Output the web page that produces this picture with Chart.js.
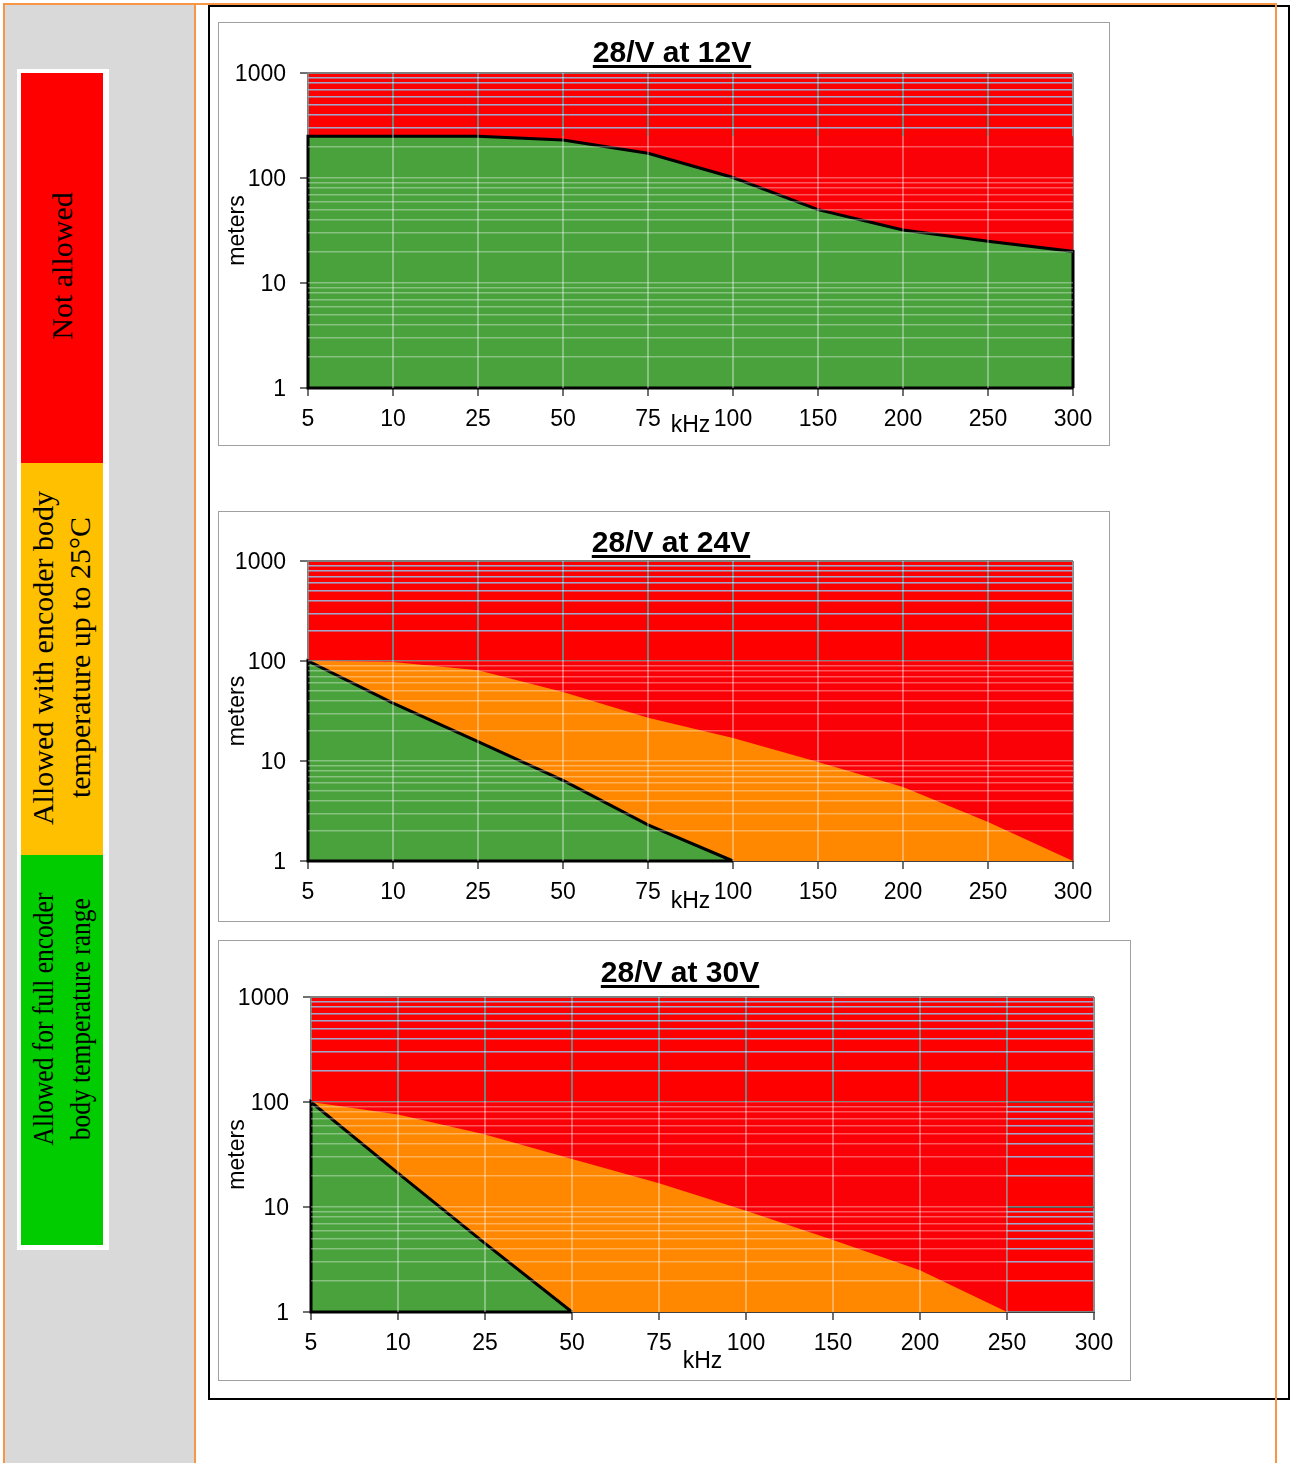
<!DOCTYPE html>
<html>
<head>
<meta charset="utf-8">
<title>28/V cable length charts</title>
<script src="https://cdn.jsdelivr.net/npm/chart.js@4.4.1/dist/chart.umd.min.js"></script>
<style>
html, body { margin: 0; padding: 0; background: #fff; }
body { position: relative; width: 1290px; height: 1463px; overflow: hidden; font-family: "Liberation Sans", Arial, sans-serif; }
.abs { position: absolute; box-sizing: border-box; }
#sidebar { left: 5px; top: 5px; width: 191px; height: 1470px; background: #d9d9d9; border-right: 2px solid #f79646; }
#frame { left: 3px; top: 3px; width: 1274px; height: 1480px; border: 2px solid #f79646; z-index: 10; pointer-events: none; }
#outer { left: 208px; top: 5px; width: 1082px; height: 1395px; border: 2px solid #000; }
#legend { left: 17px; top: 69px; width: 92px; height: 1181px; background: #fff; }
.band { position: absolute; left: 21px; width: 82px; }
.ltxt { position: absolute; writing-mode: vertical-rl; transform: translate(-50%, -50%) rotate(180deg);
        font-family: "Liberation Serif", "Times New Roman", serif; font-size: 30px; line-height: 37px;
        text-align: center; white-space: nowrap; color: #000; }
.ltxt.narrow { transform: translate(-50%, -50%) rotate(180deg) scaleY(0.85); }
.box { position: absolute; border: 1px solid #a0a0a0; background: #fff; box-sizing: border-box; }
.box canvas { position: absolute; left: 0; top: 0; }
.ttl { position: absolute; font-weight: bold; font-size: 30px; line-height: 30px; white-space: nowrap; color: #000;
       text-decoration: underline; text-decoration-thickness: 3px; text-underline-offset: 3px; transform: translateX(-50%); }
</style>
</head>
<body>
<div id="sidebar" class="abs"></div>
<div id="outer" class="abs"></div>
<div id="frame" class="abs"></div>

<div id="legend" class="abs"></div>
<div class="band" style="top:73px;height:390px;background:#ff0000;"></div>
<div class="band" style="top:463px;height:392px;background:#ffc000;"></div>
<div class="band" style="top:855px;height:390px;background:#00cc00;"></div>
<div class="ltxt" style="left:61px;top:266px;">Not allowed</div>
<div class="ltxt" style="left:61px;top:658px;">Allowed with encoder body<br>temperature up to 25°C</div>
<div class="ltxt narrow" style="left:61px;top:1019px;">Allowed for full encoder<br>body temperature range</div>

<div class="box" id="box12"><canvas id="c12"></canvas></div>
<div class="box" id="box24"><canvas id="c24"></canvas></div>
<div class="box" id="box30"><canvas id="c30"></canvas></div>
<div class="ttl" style="left:672px;top:37px;">28/V at 12V</div>
<div class="ttl" style="left:671px;top:527px;">28/V at 24V</div>
<div class="ttl" style="left:680px;top:957px;">28/V at 30V</div>

<script>
// categorias del eje X (kHz) y marcas del eje Y logaritmico
const KHZ = ['5', '10', '25', '50', '75', '100', '150', '200', '250', '300'];
const Y_TICKS = [1, 2, 3, 4, 5, 6, 7, 8, 9, 10, 20, 30, 40, 50, 60, 70, 80, 90,
                 100, 200, 300, 400, 500, 600, 700, 800, 900, 1000];
const Y_LABELED = [1, 10, 100, 1000];

// 28/V at 12V
const green12 = [250, 250, 250, 230, 172, 101, 50, 32, 25, 20];
const red12 = [250, 250, 250, 250, 250, 250, 250, 250, 250, 250];

// 28/V at 24V
const green24 = [100, 38, 15.6, 6.4, 2.3, 1, null, null, null, null];
const orange24 = [100, 98, 81, 49, 27, 17, 9.8, 5.5, 2.45, 1];
const red24 = [100, 100, 100, 100, 100, 100, 100, 100, 100, 100];

// 28/V at 30V
const green30 = [100, 21, 4.5, 1, null, null, null, null, null, null];
const orange30 = [100, 76, 49, 28.6, 16.8, 9.2, 4.85, 2.5, 1, null];
const red30 = [100, 100, 100, 100, 100, 100, 100, 100, 100, null];

const RED = '#ff0000', RED_SHADE = '#fa0007', ORANGE = '#ff8800', GREEN = '#49a23c';
const OVER = 'rgba(255,255,255,0.35)';
const CLEAR = 'rgba(0,0,0,0)';
const FONT = { size: 23 };
const LH = 23 * 1.2;

Chart.defaults.font.family = '"Liberation Sans", Arial, sans-serif';

// fondo rojo del area de trazado
const plotBg = {
	id: 'plotBg',
	beforeDraw(chart) {
		const a = chart.chartArea, ctx = chart.ctx;
		ctx.save();
		ctx.fillStyle = RED;
		ctx.fillRect(a.left, a.top, a.right - a.left, a.bottom - a.top);
		ctx.restore();
	}
};

function setLogTicks(scale) {
	scale.ticks = Y_TICKS.map(v => ({ value: v }));
}

// contorno negro de la zona verde (borde izq., fondo, curva)
function outlineOf(vals) {
	let last = vals.length - 1;
	while (vals[last] == null) last--;
	const pts = [{ x: KHZ[last], y: 1 }, { x: KHZ[0], y: 1 }];
	for (let i = 0; i <= last; i++) pts.push({ x: KHZ[i], y: vals[i] });
	pts.push({ x: KHZ[last], y: 1 });
	return pts;
}

function area(data, color) {
	return { data, backgroundColor: color, borderColor: CLEAR, borderWidth: 0, fill: 'start',
		pointRadius: 0, xAxisID: 'x', yAxisID: 'y' };
}

function buildChart(boxId, canvasId, g, green, orange, red) {
	const [bx, by, bw, bh] = g.box;
	const [pl, pt, pr, pb] = g.plot;
	const box = document.getElementById(boxId);
	box.style.left = bx + 'px';
	box.style.top = by + 'px';
	box.style.width = bw + 'px';
	box.style.height = bh + 'px';
	const cx = bx + 1, cy = by + 1, cw = bw - 2, ch = bh - 2;
	const cv = document.getElementById(canvasId);
	cv.width = cw; cv.height = ch;
	cv.style.width = cw + 'px'; cv.style.height = ch + 'px';
	const last = KHZ.length - 1;

	const datasets = [
		{ data: outlineOf(green), borderColor: '#000', borderWidth: 3, fill: false, pointRadius: 0,
		  clip: false, xAxisID: 'x', yAxisID: 'y' },
		area(green, GREEN)
	];
	if (orange) datasets.push(area(orange, ORANGE));
	datasets.push(area(red, RED_SHADE));

	new Chart(cv, {
		type: 'line',
		data: { labels: KHZ, datasets },
		options: {
			responsive: false,
			animation: false,
			events: [],
			layout: { padding: { left: 0, top: pt - cy, right: cx + cw - pr, bottom: 0 } },
			plugins: { legend: { display: false }, tooltip: { enabled: false }, title: { display: false } },
			elements: { line: { tension: 0 }, point: { radius: 0 } },
			scales: {
				x: {
					type: 'category', position: 'bottom', offset: false,
					grid: { offset: false, lineWidth: 2, tickLength: 8, tickWidth: 1.5, tickColor: '#404040',
						color: c => (c.index === 0 || c.index === last) ? '#8c8c8c' : '#3a3a3a' },
					border: { color: '#404040', width: 1 },
					ticks: { color: '#000', font: FONT, padding: 9.5, autoSkip: false, maxRotation: 0 },
					title: { display: true, text: 'kHz', color: '#000', font: FONT,
						padding: { top: 0, bottom: ch - LH / 2 - (g.xTitleY - cy) } },
					afterFit: s => { s.height = cy + ch - pb; }
				},
				xOver: {
					type: 'category', position: 'bottom', offset: false,
					grid: { z: 1, offset: false, lineWidth: 2, drawTicks: false,
						color: c => (c.index === 0 || c.index === last) ? CLEAR : OVER },
					border: { display: false },
					ticks: { display: false },
					afterFit: s => { s.height = 0; }
				},
				y: {
					type: 'logarithmic', position: 'left', min: 1, max: 1000,
					afterBuildTicks: setLogTicks,
					grid: {
						tickLength: 8, tickWidth: 1.5,
						lineWidth: c => (c.tick && Y_LABELED.includes(c.tick.value)) ? 2 : 1.5,
						color: c => {
							if (!c.tick) return '#808080';
							const v = c.tick.value;
							if (v === 1 || v === 1000) return '#808080';
							return Y_LABELED.includes(v) ? '#3c3c3c' : '#7575ab';
						},
						tickColor: c => (c.tick && Y_LABELED.includes(c.tick.value)) ? '#404040' : CLEAR
					},
					border: { color: '#808080', width: 2 },
					ticks: { color: '#000', font: FONT, padding: 14, labelOffset: 2, autoSkip: false,
						callback: v => Y_LABELED.includes(v) ? String(v) : '' },
					title: { display: true, text: 'meters', color: '#000', font: FONT,
						padding: { top: g.yTitleX - cx - LH / 2, bottom: 0 } },
					afterFit: s => { s.width = pl - cx; }
				},
				yOver: {
					type: 'logarithmic', position: 'left', min: 1, max: 1000,
					afterBuildTicks: setLogTicks,
					grid: { z: 1, lineWidth: 1.5, drawTicks: false,
						color: c => (!c.tick || c.tick.value === 1 || c.tick.value === 1000) ? CLEAR : OVER },
					border: { display: false },
					ticks: { display: false },
					afterFit: s => { s.width = 0; }
				}
			}
		},
		plugins: [plotBg]
	});
}

buildChart('box12', 'c12', { box: [218, 22, 892, 424], plot: [308, 73, 1073, 388], yTitleX: 238, xTitleY: 426 },
	green12, null, red12);
buildChart('box24', 'c24', { box: [218, 511, 892, 411], plot: [308, 561, 1073, 861], yTitleX: 238, xTitleY: 902 },
	green24, orange24, red24);
buildChart('box30', 'c30', { box: [218, 940, 913, 441], plot: [311, 997, 1094, 1312], yTitleX: 238, xTitleY: 1362 },
	green30, orange30, red30);
</script>
</body>
</html>
